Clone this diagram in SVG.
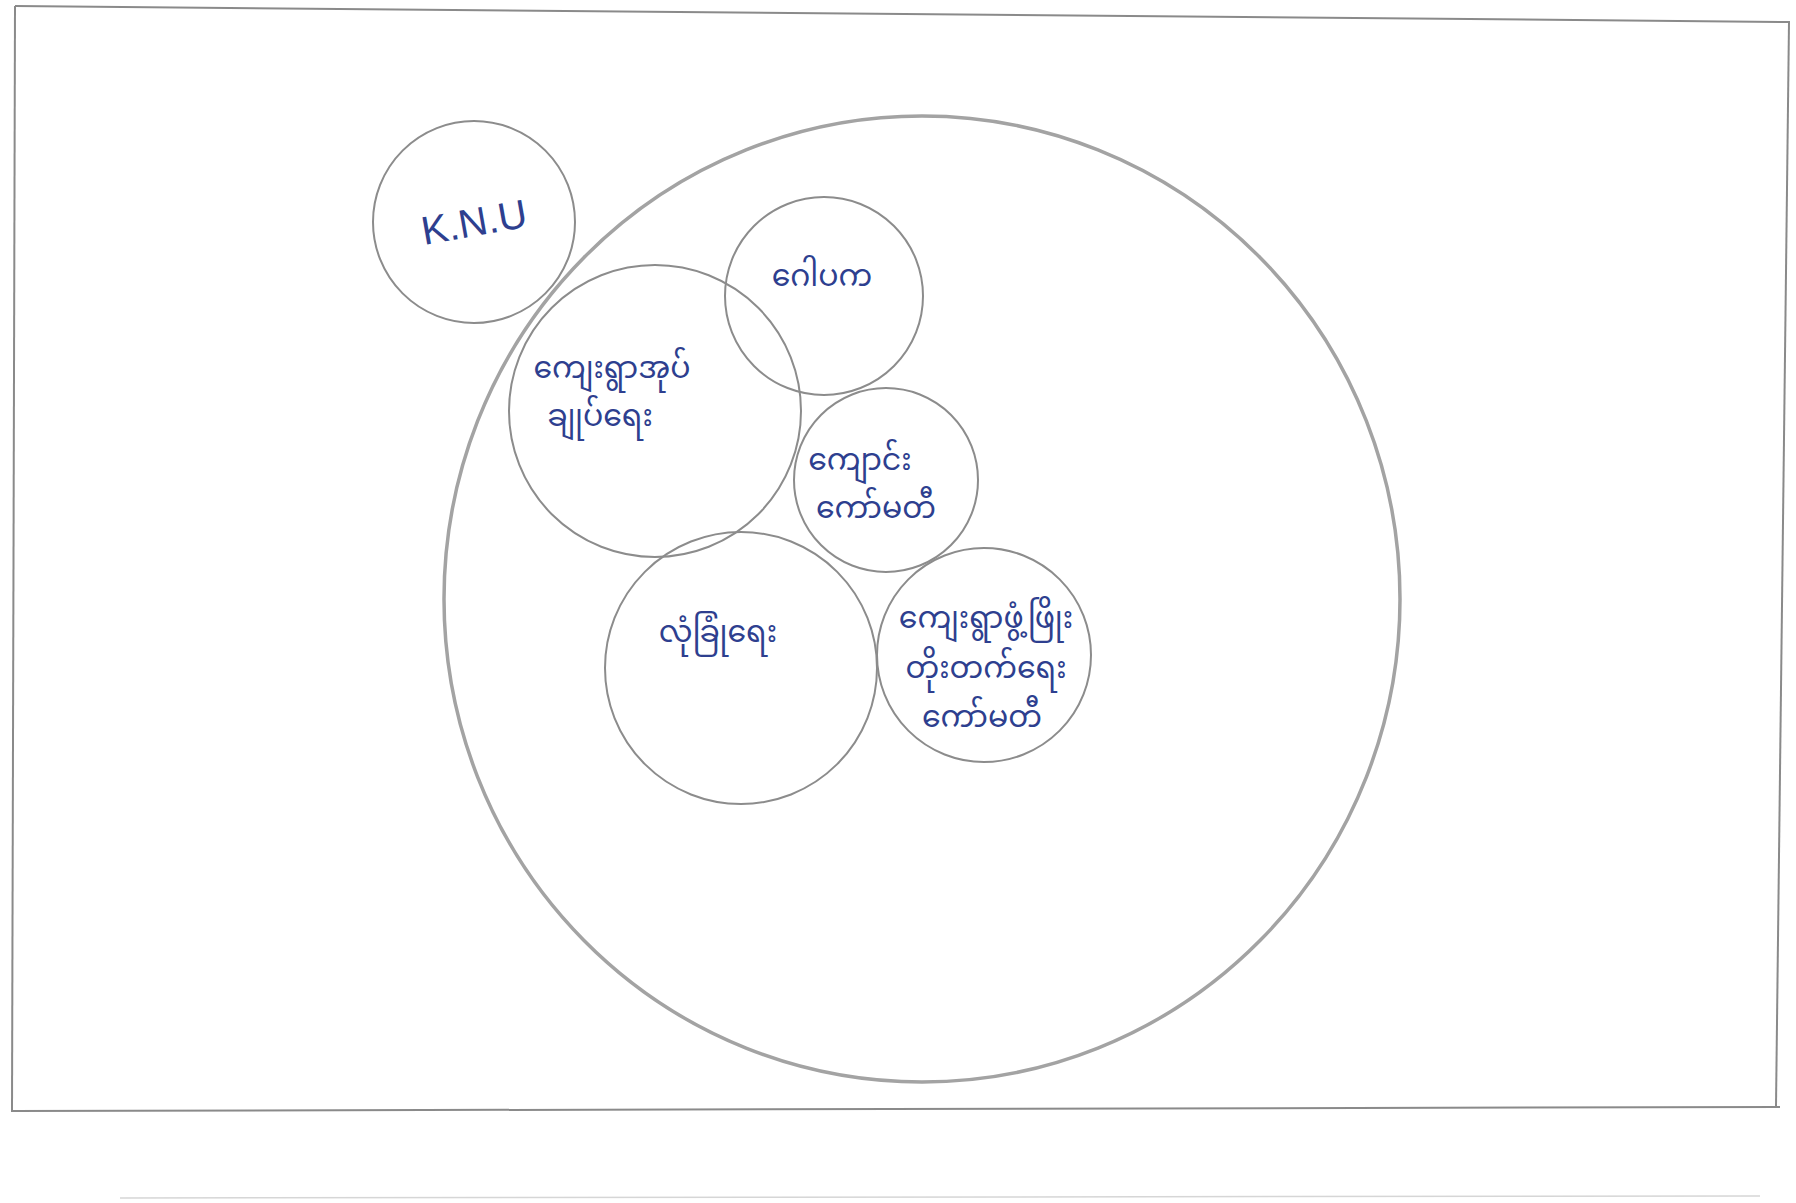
<svg xmlns="http://www.w3.org/2000/svg" width="1796" height="1203" viewBox="0 0 1796 1203">
<style>
.frame{fill:none;stroke:#8a8a8a;stroke-width:2}
.big{fill:none;stroke:#a3a3a3;stroke-width:3.5}
.c{fill:none;stroke:#8c8c8c;stroke-width:2}
.t{fill:#2e3f8f;font-family:"Noto Sans Myanmar","Padauk","Myanmar Text","Noto Sans",sans-serif;font-size:30px;text-anchor:middle}
.l{fill:#2e3f8f;font-family:"Liberation Sans",sans-serif;font-size:40px;text-anchor:middle}
</style>
<rect width="1796" height="1203" fill="#ffffff"/>
<g id="frame">
<line class="frame" x1="15" y1="6" x2="1790" y2="22"/>
<line class="frame" x1="15" y1="6" x2="12" y2="1112"/>
<line class="frame" x1="1789" y1="22" x2="1776" y2="1106"/>
<line class="frame" x1="12" y1="1111" x2="1780" y2="1107"/>
<line x1="120" y1="1198" x2="1760" y2="1196" stroke="#d6d6d6" stroke-width="1.5"/>
</g>
<g id="community">
<ellipse class="big" cx="922" cy="599" rx="478" ry="483"/>
</g>
<g id="knu">
<circle class="c" cx="474" cy="222" r="101"/>
<text class="l" x="474" y="236" transform="rotate(-10 474 222)">K.N.U</text>
</g>
<g id="village-admin">
<circle class="c" cx="655" cy="411" r="146"/>
<text class="t" x="612" y="378">ကျေးရွာအုပ်</text>
<text class="t" x="600" y="426">ချုပ်ရေး</text>
</g>
<g id="gawpaka">
<circle class="c" cx="824" cy="296" r="99"/>
<text class="t" x="822" y="286">ဂေါပက</text>
</g>
<g id="school-committee">
<circle class="c" cx="886" cy="480" r="92"/>
<text class="t" x="860" y="470">ကျောင်း</text>
<text class="t" x="876" y="518">ကော်မတီ</text>
</g>
<g id="security">
<circle class="c" cx="741" cy="668" r="136"/>
<text class="t" x="718" y="642">လုံခြုံရေး</text>
</g>
<g id="development-committee">
<circle class="c" cx="984" cy="655" r="107"/>
<text class="t" x="986" y="628">ကျေးရွာဖွံ့ဖြိုး</text>
<text class="t" x="986" y="678">တိုးတက်ရေး</text>
<text class="t" x="982" y="727">ကော်မတီ</text>
</g>
</svg>
